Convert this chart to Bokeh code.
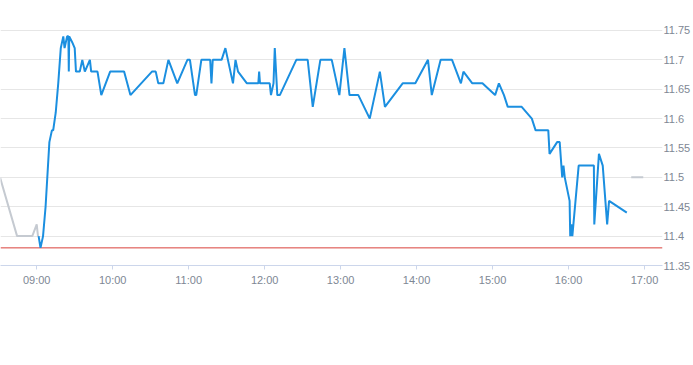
from bokeh.plotting import figure
from bokeh.models import FixedTicker, NumeralTickFormatter, Span, ColumnDataSource
from bokeh.embed import file_html
from bokeh.resources import INLINE

# ---- data ----
prev_close = 11.38

pre_times = ["08:31", "08:44:30", "08:56:30", "09:00", "09:01"]
pre_prices = [11.50, 11.40, 11.40, 11.42, 11.40]

post_times = ["16:49:30", "16:59"]
post_prices = [11.50, 11.50]

blue_times = [
    "09:01:30", "09:03", "09:05", "09:07", "09:10", "09:12", "09:13", "09:15", "09:17", "09:19",
    "09:21", "09:22", "09:24", "09:25", "09:25:20", "09:25:40", "09:28", "09:30", "09:31", "09:34",
    "09:36", "09:38", "09:42", "09:43", "09:48", "09:51", "09:58", "10:09", "10:14", "10:31",
    "10:34", "10:36", "10:40", "10:44", "10:51", "10:59", "11:01", "11:05", "11:06", "11:10",
    "11:17", "11:18", "11:19", "11:26", "11:29", "11:35", "11:37", "11:39", "11:46", "11:55",
    "11:55:40", "11:56:20", "12:04", "12:05", "12:07", "12:08", "12:10", "12:12", "12:25", "12:34",
    "12:38", "12:44", "12:53", "12:59", "13:03", "13:07", "13:14", "13:23", "13:31", "13:35",
    "13:49", "13:59", "14:09", "14:12", "14:19", "14:28", "14:35", "14:37", "14:44", "14:52",
    "15:02", "15:05", "15:09", "15:12", "15:23", "15:31", "15:34", "15:44", "15:45", "15:51",
    "15:53", "15:55", "15:56", "15:57", "16:00:50", "16:01:20", "16:02:10", "16:03", "16:08", "16:20",
    "16:20:20", "16:24", "16:27", "16:30:30", "16:32", "16:46",
]
blue_prices = [
    11.40, 11.38, 11.40, 11.45, 11.56, 11.58, 11.58, 11.61, 11.66, 11.72,
    11.74, 11.72, 11.74, 11.74, 11.68, 11.74, 11.73, 11.72, 11.68, 11.68,
    11.70, 11.68, 11.70, 11.68, 11.68, 11.64, 11.68, 11.68, 11.64, 11.68,
    11.68, 11.66, 11.66, 11.70, 11.66, 11.70, 11.70, 11.64, 11.64, 11.70,
    11.70, 11.66, 11.70, 11.70, 11.72, 11.66, 11.70, 11.68, 11.66, 11.66,
    11.68, 11.66, 11.66, 11.64, 11.66, 11.72, 11.64, 11.64, 11.70, 11.70,
    11.62, 11.70, 11.70, 11.64, 11.72, 11.64, 11.64, 11.60, 11.68, 11.62,
    11.66, 11.66, 11.70, 11.64, 11.70, 11.70, 11.66, 11.68, 11.66, 11.66,
    11.64, 11.66, 11.64, 11.62, 11.62, 11.60, 11.58, 11.58, 11.54, 11.56,
    11.56, 11.50, 11.52, 11.50, 11.46, 11.40, 11.42, 11.40, 11.52, 11.52,
    11.42, 11.54, 11.52, 11.42, 11.46, 11.44,
]

x_tick_labels = ["09:00", "10:00", "11:00", "12:00", "13:00", "14:00", "15:00", "16:00", "17:00"]
y_ticks = [11.35, 11.40, 11.45, 11.50, 11.55, 11.60, 11.65, 11.70, 11.75]


def to_min(s):
    parts = [int(v) for v in s.split(":")]
    while len(parts) < 3:
        parts.append(0)
    return parts[0] * 60 + parts[1] + parts[2] / 60.0


x_ticks = [to_min(t) for t in x_tick_labels]

LABEL_COLOR = "#7e8794"
FONT = "Liberation Sans"

p = figure(
    width=693, frame_height=265,
    x_range=(511.4, 1034.2), y_range=(11.35, 11.801),
    y_axis_location="right",
    output_backend="svg", toolbar_location=None,
    min_border_left=0, min_border_top=0, min_border_right=0, min_border_bottom=10,
)
p.outline_line_color = None
p.background_fill_color = "white"
p.border_fill_color = "white"

# grid
p.xgrid.visible = False
p.ygrid.grid_line_color = "#e6e6e6"
p.ygrid.grid_line_width = 1

# x axis
xa = p.xaxis[0]
xa.ticker = FixedTicker(ticks=x_ticks)
xa.major_label_overrides = {int(t): lab for t, lab in zip(x_ticks, x_tick_labels)}
xa.axis_line_color = "#ccd6eb"
xa.major_tick_line_color = "#ccd6eb"
xa.major_tick_in = 0
xa.major_tick_out = 4
xa.minor_tick_line_color = None
xa.major_label_standoff = 4
xa.major_label_text_font = FONT
xa.major_label_text_font_size = "11px"
xa.major_label_text_color = LABEL_COLOR

# y axis
ya = p.yaxis[0]
ya.ticker = FixedTicker(ticks=y_ticks)
ya.formatter = NumeralTickFormatter(format="0.0[0]")
ya.axis_line_color = None
ya.major_tick_line_color = None
ya.minor_tick_line_color = None
ya.major_tick_in = 0
ya.major_tick_out = 0
ya.major_label_standoff = 1
ya.major_label_text_font = FONT
ya.major_label_text_font_size = "11px"
ya.major_label_text_color = LABEL_COLOR

# previous close
p.add_layout(Span(location=prev_close, dimension="width", line_color="#d9403a",
                  line_width=1, level="underlay"))

pre = ColumnDataSource(dict(x=[to_min(t) for t in pre_times], y=pre_prices))
post = ColumnDataSource(dict(x=[to_min(t) for t in post_times], y=post_prices))
main = ColumnDataSource(dict(x=[to_min(t) for t in blue_times], y=blue_prices))

p.line("x", "y", source=pre, line_color="#c5cad1", line_width=2)
p.line("x", "y", source=post, line_color="#c5cad1", line_width=2)
p.line("x", "y", source=main, line_color="#1b8fe0", line_width=2)

open("out.html", "w").write(file_html(p, INLINE))
